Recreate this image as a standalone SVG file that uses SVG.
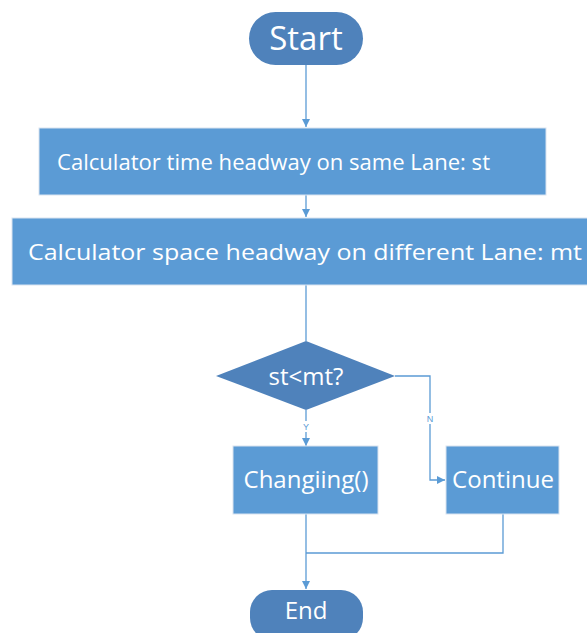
<svg xmlns="http://www.w3.org/2000/svg" width="587" height="633" viewBox="0 0 587 633">
<defs>
<style>
.term{fill:#4f82bb;}
.box{fill:#5b9bd5;stroke:#d9e3f0;stroke-width:1;}
.dec{fill:#4f82bb;}
.t{fill:#ffffff;font-family:"Open Sans","Noto Sans",sans-serif;text-anchor:middle;}
.ts{fill:#ffffff;font-family:"Open Sans","Noto Sans",sans-serif;text-anchor:start;}
.c{fill:none;stroke:#5b9bd5;stroke-width:1.3;}
.lbl{fill:#5b9bd5;font-family:"Liberation Sans",sans-serif;font-size:9px;text-anchor:middle;}
.lb{fill:#ffffff;}
</style>
<marker id="ah" viewBox="0 0 10 10" refX="10" refY="5" markerWidth="8" markerHeight="8" markerUnits="userSpaceOnUse" orient="auto">
<path d="M0,0 L10,5 L0,10 z" fill="#5b9bd5"/>
</marker>
</defs>
<rect width="587" height="633" fill="#ffffff"/>
<g id="connectors">
<line class="c" x1="306" y1="65" x2="306" y2="127" marker-end="url(#ah)"/>
<line class="c" x1="306" y1="195" x2="306" y2="217" marker-end="url(#ah)"/>
<line class="c" x1="306" y1="285" x2="306" y2="341"/>
<line class="c" x1="306" y1="410" x2="306" y2="446" marker-end="url(#ah)"/>
<rect class="lb" x="302" y="421" width="8" height="11"/>
<text class="lbl" x="306" y="430">Y</text>
<polyline class="c" points="395,376 430,376 430,480 445,480" marker-end="url(#ah)"/>
<rect class="lb" x="426" y="413" width="8" height="11"/>
<text class="lbl" x="430" y="422">N</text>
<line class="c" x1="306" y1="514" x2="306" y2="589" marker-end="url(#ah)"/>
<polyline class="c" points="503,514 503,553 306,553"/>
</g>
<g id="start">
<rect class="term" x="249" y="12" width="114" height="53" rx="26.5"/>
<text class="t" x="306" y="50" font-size="33">Start</text>
</g>
<g id="step1">
<rect class="box" x="39" y="128" width="507" height="67"/>
<text class="ts" x="57" y="170" font-size="22" textLength="433" lengthAdjust="spacingAndGlyphs">Calculator time headway on same Lane: st</text>
</g>
<g id="step2">
<rect class="box" x="12" y="218" width="590" height="67"/>
<text class="ts" x="28" y="260" font-size="22" textLength="554" lengthAdjust="spacingAndGlyphs">Calculator space headway on different Lane: mt</text>
</g>
<g id="decision">
<polygon class="dec" points="306,341 395,376 306,410 216,376"/>
<text class="t" x="306" y="385" font-size="24">st&lt;mt?</text>
</g>
<g id="changing">
<rect class="box" x="233" y="446" width="145" height="68"/>
<text class="t" x="306" y="488" font-size="24">Changiing()</text>
</g>
<g id="continue">
<rect class="box" x="446" y="446" width="113" height="68"/>
<text class="t" x="503" y="488" font-size="24">Continue</text>
</g>
<g id="end">
<rect class="term" x="250" y="590" width="113" height="50" rx="22"/>
<text class="t" x="306" y="619" font-size="24">End</text>
</g>
</svg>
